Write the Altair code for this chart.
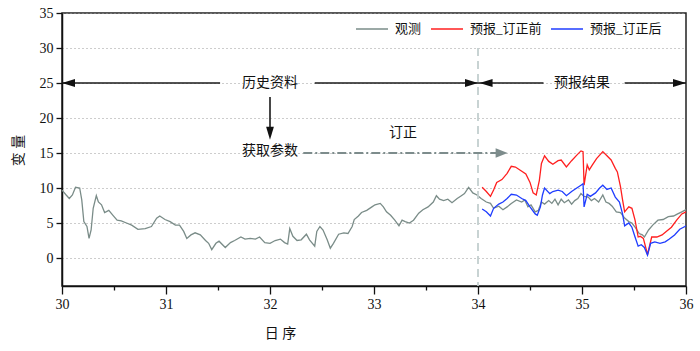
import altair as alt
import pandas as pd

# ---------------- data ----------------
obs_t = [30.00, 30.04, 30.07, 30.10, 30.13, 30.17, 30.19, 30.21, 30.24, 30.26, 30.28, 30.30,
         30.33, 30.35, 30.38, 30.41, 30.45, 30.49, 30.53, 30.57, 30.62, 30.67, 30.73, 30.80,
         30.86, 30.91, 30.94, 30.99, 31.04, 31.09, 31.13, 31.17, 31.20, 31.24, 31.28, 31.33,
         31.38, 31.41, 31.44, 31.48, 31.51, 31.57, 31.62, 31.66, 31.72, 31.76, 31.81, 31.86,
         31.90, 31.95, 32.00, 32.05, 32.10, 32.14, 32.17, 32.19, 32.22, 32.26, 32.30, 32.35,
         32.38, 32.43, 32.45, 32.48, 32.51, 32.55, 32.58, 32.61, 32.66, 32.71, 32.75, 32.79,
         32.81, 32.85, 32.88, 32.93, 32.98, 33.01, 33.06, 33.09, 33.12, 33.16, 33.20, 33.24,
         33.27, 33.30, 33.34, 33.38, 33.43, 33.47, 33.52, 33.57, 33.60, 33.63, 33.67, 33.71,
         33.75, 33.80, 33.84, 33.87, 33.91, 33.95, 33.99, 34.03, 34.08, 34.12, 34.15, 34.20,
         34.24, 34.28, 34.32, 34.37, 34.42, 34.45, 34.48, 34.51, 34.55, 34.58, 34.61, 34.64,
         34.68, 34.71, 34.74, 34.77, 34.80, 34.83, 34.87, 34.90, 34.93, 34.96, 34.99, 35.02,
         35.06, 35.09, 35.12, 35.16, 35.20, 35.23, 35.26, 35.29, 35.33, 35.37, 35.41, 35.45,
         35.48, 35.51, 35.55, 35.58, 35.60, 35.64, 35.68, 35.73, 35.78, 35.83, 35.88, 35.92,
         35.96, 36.00]
obs_v = [9.7, 9.0, 8.5, 9.0, 10.1, 10.0, 8.3, 5.2, 4.5, 2.8, 4.0, 7.1,
         8.9, 8.0, 7.6, 6.5, 6.8, 6.1, 5.4, 5.3, 5.0, 4.7, 4.1, 4.2,
         4.5, 5.7, 6.0, 5.5, 5.2, 4.7, 4.7, 3.8, 2.8, 3.3, 3.6, 3.3,
         2.5, 2.1, 1.2, 2.1, 2.4, 1.5, 2.2, 2.5, 3.0, 2.7, 2.8, 2.7,
         3.0, 2.2, 2.1, 2.5, 2.7, 2.2, 2.0, 4.2, 3.1, 2.5, 2.6, 3.4,
         2.6, 1.7, 3.8, 4.5, 4.0, 2.6, 1.4, 2.1, 3.4, 3.6, 3.5, 4.5,
         5.5, 6.0, 6.5, 6.8, 7.3, 7.6, 7.8, 7.3, 6.6, 6.1, 5.4, 4.6,
         5.4, 5.2, 5.0, 5.4, 6.4, 6.9, 7.3, 8.0, 8.9, 8.4, 8.2, 8.4,
         7.9, 8.5, 8.9, 9.2, 10.1, 9.3, 9.0, 8.5, 8.0, 7.8, 7.1, 7.4,
         6.9, 7.3, 7.8, 8.3, 8.0, 8.3, 7.3, 7.6, 6.6, 6.8, 8.0, 7.7,
         8.2, 7.8, 8.4, 7.6, 8.4, 7.9, 8.3, 7.7, 8.2, 8.5, 9.2, 8.8,
         8.7, 8.2, 8.5, 8.0, 9.0, 8.0, 7.8, 7.4, 6.6, 6.5, 5.7, 5.2,
         5.0, 4.4, 3.5, 3.3, 3.0, 4.0, 4.7, 5.4, 5.5, 5.9, 6.0, 6.3,
         6.6, 6.9]

pre_t = [34.04, 34.08, 34.12, 34.15, 34.18, 34.23, 34.28, 34.32, 34.36, 34.41, 34.46, 34.50,
         34.53, 34.56, 34.59, 34.61, 34.64, 34.68, 34.72, 34.77, 34.80, 34.85, 34.90, 34.95,
         34.99, 35.01, 35.02, 35.05, 35.07, 35.10, 35.14, 35.20, 35.24, 35.28, 35.32, 35.34,
         35.37, 35.39, 35.41, 35.45, 35.48, 35.51, 35.54, 35.56, 35.59, 35.63, 35.67, 35.72,
         35.77, 35.81, 35.86, 35.91, 35.96, 36.00]
pre_v = [10.1, 9.5, 8.8, 9.7, 10.8, 11.2, 12.1, 13.1, 13.0, 12.5, 12.0, 10.8,
         9.3, 9.0, 11.1, 13.5, 14.6, 13.8, 13.4, 13.9, 14.0, 13.0, 13.9, 14.7,
         15.3, 15.2, 10.4, 13.3, 12.6, 13.3, 14.2, 15.2, 14.6, 14.0, 12.8, 12.3,
         10.2, 8.3, 6.6, 7.3, 7.1, 5.4, 3.0, 3.1, 2.8, 0.5, 3.0, 3.0,
         3.3, 3.8, 4.4, 5.4, 6.3, 6.6]

post_t = [34.04, 34.08, 34.12, 34.15, 34.20, 34.24, 34.28, 34.32, 34.37, 34.42, 34.46, 34.50,
          34.55, 34.57, 34.60, 34.62, 34.64, 34.69, 34.72, 34.77, 34.81, 34.85, 34.90, 34.95,
          34.99, 35.01, 35.02, 35.05, 35.08, 35.13, 35.17, 35.20, 35.24, 35.28, 35.32, 35.36,
          35.39, 35.41, 35.45, 35.48, 35.51, 35.54, 35.57, 35.60, 35.63, 35.66, 35.70, 35.75,
          35.80, 35.84, 35.89, 35.94, 35.99, 36.00]
post_v = [7.0, 6.6, 6.0, 7.1, 7.7, 8.0, 8.5, 9.1, 9.0, 8.5, 8.2, 7.3,
          6.3, 6.1, 7.3, 9.0, 10.0, 9.2, 9.5, 9.7, 9.5, 8.9, 9.5, 10.0,
          10.4, 10.6, 7.3, 9.1, 8.8, 9.3, 10.0, 10.4, 9.8, 10.0, 8.7, 8.0,
          6.3, 4.6, 5.0, 4.4, 3.0, 1.7, 1.9, 1.5, 0.4, 2.1, 2.3, 2.1,
          2.3, 2.7, 3.3, 4.1, 4.5, 4.6]

series_names = ["观测", "预报_订正前", "预报_订正后"]
series_colors = ["#7a8c88", "#ff1f1f", "#1f3dff"]

x_major = [30, 31, 32, 33, 34, 35, 36]
x_minor = [30.5, 31.5, 32.5, 33.5, 34.5, 35.5]
y_ticks = [0, 5, 10, 15, 20, 25, 30, 35]

# annotations (data coordinates)
ann_texts = ["历史资料", "预报结果", "获取参数", "订正"]
ann_tx = [32.0, 35.0, 32.0, 33.28]
ann_ty = [25.0, 25.0, 15.3, 17.9]

shaft_x = [30.0, 32.43, 34.0, 35.41, 32.0]
shaft_x2 = [31.52, 34.0, 34.63, 36.0, 32.0]
shaft_y = [25.0, 25.0, 25.0, 25.0, 23.0]
shaft_y2 = [25.0, 25.0, 25.0, 25.0, 17.5]

head_x = [30.0, 34.0, 34.015, 36.0, 32.0]
head_y = [25.0, 25.0, 25.0, 25.0, 16.9]
head_dir = ["left", "right", "left", "right", "down"]

fix_x, fix_x2, fix_y = 32.32, 34.18, 15.0
fix_head_x = 34.285

split_x, split_top, split_bottom = 34.0, 30.0, -4.0

# ---------------- tables ----------------
lines_df = pd.concat([
    pd.DataFrame({"t": obs_t, "v": obs_v, "s": series_names[0]}),
    pd.DataFrame({"t": pre_t, "v": pre_v, "s": series_names[1]}),
    pd.DataFrame({"t": post_t, "v": post_v, "s": series_names[2]}),
])
text_df = pd.DataFrame({"x": ann_tx, "y": ann_ty, "label": ann_texts})
shaft_df = pd.DataFrame({"x": shaft_x, "x2": shaft_x2, "y": shaft_y, "y2": shaft_y2})
head_df = pd.DataFrame({"x": head_x, "y": head_y, "d": head_dir})
fix_df = pd.DataFrame({"x": [fix_x], "x2": [fix_x2], "y": [fix_y]})
fixhead_df = pd.DataFrame({"x": [fix_head_x], "y": [fix_y]})
split_df = pd.DataFrame({"x": [split_x], "y": [split_top], "y2": [split_bottom]})

FONT = "Liberation Serif, Noto Sans CJK SC"

xscale = alt.Scale(domain=[30, 36], nice=False, zero=False)
yscale = alt.Scale(domain=[-4, 35], nice=False, zero=False)

x_axis = alt.Axis(
    values=x_major,
    orient="bottom",
    tickSize=8,
    grid=False,
    title="日 序",
    titleX=218,
    titleY=40,
    titleFontSize=14,
    titleFontWeight="normal",
    labelFontSize=14,
    labelPadding=3,
    labelOverlap=False,
    labelFlush=False,
    format="d",
)
x_axis_minor = alt.Axis(
    values=x_minor,
    orient="bottom",
    tickSize=4,
    grid=False,
    labels=False,
    domain=False,
    title=None,
)
y_axis = alt.Axis(
    values=y_ticks,
    tickSize=6,
    grid=True,
    gridDash=[1, 3],
    gridColor="#9a9a9a",
    gridWidth=1,
    title="变 量",
    titleX=-44,
    titleY=137,
    titleBaseline="middle",
    titleFontSize=14,
    titleFontWeight="normal",
    labelFontSize=14,
    labelPadding=3,
    labelOverlap=False,
)

XN = lambda f: alt.X(f, scale=xscale, axis=None)
Y = lambda f: alt.Y(f, scale=yscale, axis=y_axis)

lines = alt.Chart(lines_df).mark_line(strokeWidth=1.3).encode(
    x=alt.X("t:Q", scale=xscale, axis=x_axis),
    y=Y("v:Q"),
    color=alt.Color(
        "s:N",
        scale=alt.Scale(domain=series_names, range=series_colors),
        sort=series_names,
        legend=alt.Legend(
            title=None,
            orient="none",
            legendX=293,
            legendY=-1,
            direction="horizontal",
            symbolType="stroke",
            symbolSize=1024,
            symbolStrokeWidth=1.5,
            labelFontSize=13,
            labelFont=FONT,
            labelColor="#111111",
            labelOffset=6,
            columnPadding=6,
            padding=0,
        ),
    ),
)

split = alt.Chart(split_df).mark_rule(color="#c3cfcf", strokeWidth=1.8, strokeDash=[8, 5]).encode(
    x=alt.X("x:Q", scale=xscale, axis=x_axis_minor), y=Y("y:Q"), y2="y2:Q"
)

shafts = alt.Chart(shaft_df).mark_rule(color="#1a1a1a", strokeWidth=1.6).encode(
    x=XN("x:Q"), x2="x2:Q", y=Y("y:Q"), y2="y2:Q"
)

heads = alt.Chart(head_df).mark_point(filled=True, opacity=1, size=169, color="#111111", strokeWidth=0).encode(
    x=XN("x:Q"),
    y=Y("y:Q"),
    shape=alt.Shape(
        "d:N",
        scale=alt.Scale(
            domain=["left", "right", "down"],
            range=["M0,0 L2,-0.6 L2,0.6 Z", "M0,0 L-2,-0.6 L-2,0.6 Z", "M0,0 L-0.6,-2 L0.6,-2 Z"],
        ),
        legend=None,
    ),
)

fix = alt.Chart(fix_df).mark_rule(color="#7d8c8c", strokeWidth=2, strokeDash=[9, 3, 2, 3]).encode(
    x=XN("x:Q"), x2="x2:Q", y=Y("y:Q")
)
fixhead = alt.Chart(fixhead_df).mark_point(
    filled=True, opacity=1, size=144, color="#7d8c8c", strokeWidth=0, shape="M0,0 L-2,-0.8 L-2,0.8 Z"
).encode(x=XN("x:Q"), y=Y("y:Q"))

texts = alt.Chart(text_df).mark_text(fontSize=14, font=FONT, color="#111111").encode(
    x=XN("x:Q"), y=Y("y:Q"), text="label:N"
)

chart = alt.layer(lines, split, shafts, heads, fix, fixhead, texts).resolve_axis(
    x="independent"
).properties(
    width=624,
    height=273,
    padding={"left": 62, "top": 13, "right": 14, "bottom": 65},
    autosize=alt.AutoSizeParams(type="none"),
    background="white",
).configure_view(
    stroke="#222222", strokeWidth=1.5
).configure_axis(
    labelFont=FONT,
    titleFont=FONT,
    labelColor="#111111",
    titleColor="#111111",
    domainColor="#111111",
    domainWidth=1.5,
    tickColor="#111111",
    tickWidth=1.3,
)

chart.save("out.html", embed_options={"renderer": "svg", "actions": False})
